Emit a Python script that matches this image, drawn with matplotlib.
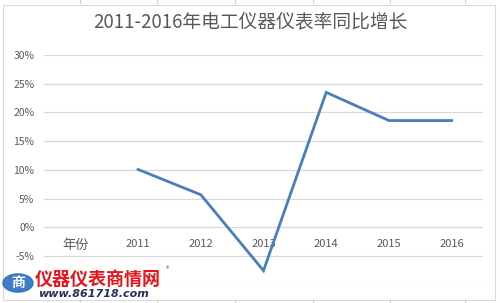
import matplotlib
matplotlib.use("Agg")
import matplotlib.pyplot as plt
from matplotlib.patches import Rectangle, Circle
from matplotlib.lines import Line2D

plt.rcParams['font.family'] = ['Noto Sans CJK SC', 'DejaVu Sans']

title = "2011-2016年电工仪器仪表率同比增长"
categories = ["年份", "2011", "2012", "2013", "2014", "2015", "2016"]
years = ["2011", "2012", "2013", "2014", "2015", "2016"]
growth = [0.101, 0.057, -0.075, 0.235, 0.186, 0.186]
yticks = [-0.10, -0.05, 0.0, 0.05, 0.10, 0.15, 0.20, 0.25, 0.30]

fig = plt.figure(figsize=(5.0, 3.03), dpi=100)
ax = fig.add_axes([0.088, 0.0594, 0.878, 0.7591])

xpos = [categories.index(y) for y in years]
ax.plot(xpos, growth, color="#4A7EBB", lw=2.0, solid_joinstyle="miter", zorder=3)

ax.set_xlim(-0.5, len(categories) - 0.5)
ax.set_ylim(-0.10, 0.30)
ax.set_yticks(yticks)
ax.set_yticklabels(["" if v < -0.07 else f"{round(v*100)}%" for v in yticks])
ax.yaxis.grid(True, color="#D9D9D9", lw=0.9)
ax.set_axisbelow(True)
ax.tick_params(axis='y', length=0, pad=7, labelsize=7.5, labelcolor="#595959")

ax.set_xticks(range(len(categories)))
ax.set_xticklabels(categories)
ax.spines['bottom'].set_position(('data', 0))
ax.tick_params(axis='x', length=0, pad=8, labelsize=8, labelcolor="#595959")
for lbl in ax.get_xticklabels():
    if lbl.get_text() == "年份":
        lbl.set_fontsize(9.5)
for s in ax.spines.values():
    s.set_visible(False)

fig.text(0.5, 1 - 22/303, title, ha="center", va="center", fontsize=13.5, color="#595959")

# chart area border and spreadsheet cell edges
fig.add_artist(Rectangle((3/500, 3/303), 492/500, 295/303, transform=fig.transFigure,
                         fill=False, ec="#D9D9D9", lw=0.8))
for x in [80, 157, 235, 313, 390, 465]:
    fig.add_artist(Line2D([x/500, x/500], [1, 1 - 3/303], transform=fig.transFigure,
                          color="#D0D0D0", lw=0.8))
    fig.add_artist(Line2D([x/500, x/500], [0, 3/303], transform=fig.transFigure,
                          color="#D0D0D0", lw=0.8))

# watermark
fig.add_artist(Circle((18/500, 1 - 283/303), 0.03, transform=fig.transFigure,
                      color="#2A6FC0", alpha=0.9))
fig.text(18/500, 1 - 283/303, "商", ha="center", va="center", fontsize=10,
         color="white", fontweight="bold")
fig.text(35/500, 1 - 279/303, "仪器仪表商情网", ha="left", va="center", fontsize=13,
         color="#E8141B", fontweight="bold")
fig.text(166/500, 1 - 269/303, "®", ha="left", va="center", fontsize=5, color="#E8141B")
fig.text(38/500, 1 - 294/303, "www.861718.com", ha="left", va="center", fontsize=8,
         color="#22305A", fontweight="bold", fontstyle="italic", family="DejaVu Sans")

fig.savefig("out.png", dpi=100)
